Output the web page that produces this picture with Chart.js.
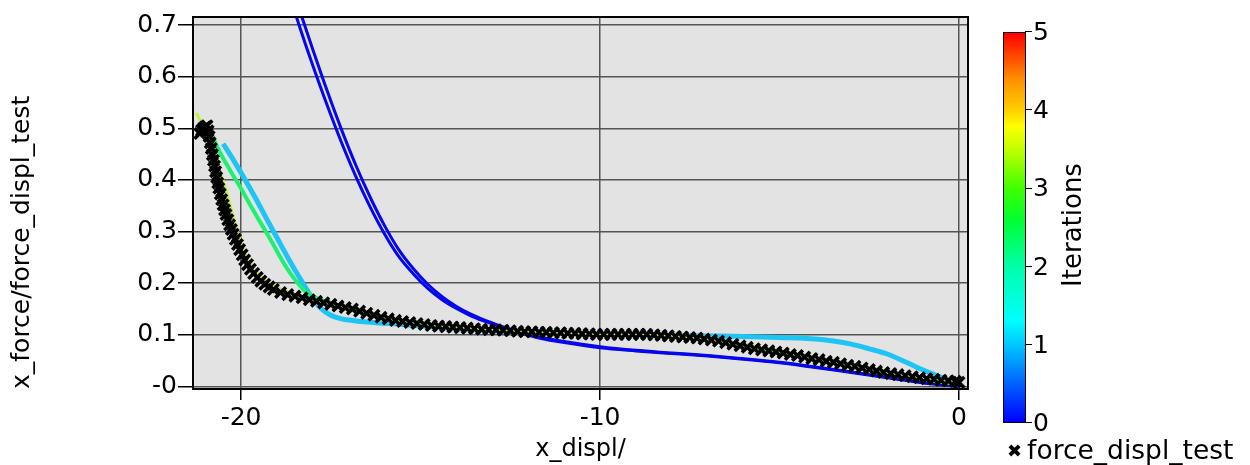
<!DOCTYPE html>
<html>
<head>
<meta charset="utf-8">
<script src="https://cdn.jsdelivr.net/npm/chart.js@4.4.1/dist/chart.umd.min.js"></script>
<style>
  body { margin: 0; background: #fff; font-family: "DejaVu Sans", sans-serif; color: #000; }
  #wrap { position: relative; width: 1250px; height: 465px; overflow: hidden; }
  #chart { position: absolute; left: 0; top: 0; }
  #cbar { position: absolute; left: 1003px; top: 32px; width: 23px; height: 391px; border: 1.5px solid #000; box-sizing: border-box; }
  .ctick { position: absolute; left: 1025px; width: 7px; height: 0; border-top: 1.5px solid #000; }
  .clabel { position: absolute; left: 1033px; font-size: 25px; line-height: 25px; transform: translateY(-52%); }
  #ctitle { position: absolute; left: 1072px; top: 225px; font-size: 26px; white-space: nowrap; transform: translate(-50%, -50%) rotate(-90deg); }
  #legend { position: absolute; left: 1007px; top: 435px; font-size: 26.5px; line-height: 30px; white-space: nowrap; }
  #legend .mark { font-size: 18px; position: relative; top: -2px; margin-right: 5px; }
</style>
</head>
<body>
<div id="wrap">
  <canvas id="chart" width="1250" height="465"></canvas>
  <div id="cbar"></div>
  <div id="ctitle">Iterations</div>
  <div id="legend"><span class="mark">&#10006;</span>force_displ_test</div>
</div>
<script>
// measured test curve (black crosses)
const testDispl = [-21.15, -21.10, -21.05, -21.00, -20.95, -20.92, -20.89, -20.86, -20.83, -20.80, -20.77, -20.74,
  -20.71, -20.68, -20.65, -20.62, -20.58, -20.54, -20.50, -20.46, -20.42, -20.37, -20.32, -20.27, -20.22,
  -20.16, -20.10, -20.04, -19.97, -19.90, -19.82, -19.74, -19.65, -19.55, -19.45, -19.34, -19.22, -19.10,
  -18.9, -18.7, -18.5, -18.3, -18.1, -17.9, -17.7, -17.5, -17.3, -17.1, -16.9, -16.7, -16.5, -16.3, -16.1,
  -15.9, -15.7, -15.5, -15.3, -15.1, -14.9, -14.7, -14.5, -14.3, -14.1, -13.9, -13.7, -13.5, -13.3, -13.1,
  -12.9, -12.7, -12.5, -12.3, -12.1, -11.9, -11.7, -11.5, -11.3, -11.1, -10.9, -10.7, -10.5, -10.3, -10.1,
  -9.9, -9.7, -9.5, -9.3, -9.1, -8.9, -8.7, -8.5, -8.3, -8.1, -7.9, -7.7, -7.5, -7.3, -7.1, -6.9, -6.7,
  -6.5, -6.3, -6.1, -5.9, -5.7, -5.5, -5.3, -5.1, -4.9, -4.7, -4.5, -4.3, -4.1, -3.9, -3.7, -3.5, -3.3,
  -3.1, -2.9, -2.7, -2.5, -2.3, -2.1, -1.9, -1.7, -1.5, -1.3, -1.1, -0.9, -0.7, -0.5, -0.3, -0.1, 0.0];
const testForce = [0.490, 0.496, 0.500, 0.503, 0.505, 0.495, 0.484, 0.472, 0.461, 0.449, 0.438, 0.427,
  0.416, 0.405, 0.394, 0.384, 0.373, 0.362, 0.352, 0.342, 0.333, 0.323, 0.313, 0.304, 0.295,
  0.285, 0.275, 0.265, 0.255, 0.245, 0.236, 0.227, 0.219, 0.211, 0.204, 0.198, 0.193, 0.188,
  0.182, 0.178, 0.175, 0.172, 0.168, 0.165, 0.162, 0.159, 0.156, 0.153, 0.150, 0.146, 0.142, 0.138, 0.134,
  0.131, 0.128, 0.126, 0.124, 0.122, 0.120, 0.118, 0.117, 0.116, 0.115, 0.114, 0.113, 0.112, 0.111, 0.110,
  0.110, 0.109, 0.108, 0.107, 0.106, 0.106, 0.105, 0.105, 0.104, 0.104, 0.103, 0.103, 0.102, 0.102, 0.101,
  0.101, 0.101, 0.101, 0.101, 0.101, 0.101, 0.101, 0.100, 0.099, 0.098, 0.097, 0.096, 0.095, 0.094, 0.092, 0.090, 0.088,
  0.085, 0.082, 0.079, 0.076, 0.073, 0.071, 0.069, 0.067, 0.065, 0.062, 0.060, 0.057, 0.054, 0.052, 0.049, 0.047, 0.044,
  0.041, 0.039, 0.036, 0.033, 0.030, 0.027, 0.025, 0.023, 0.021, 0.019, 0.017, 0.015, 0.014, 0.012, 0.011, 0.010, 0.008];

// iteration 0 (two runs)
const it0aDispl = [-18.4, -18.0, -17.6, -17.2, -16.8, -16.4, -16.0, -15.6, -15.2, -14.8, -14.4, -14.0, -13.6, -13.2,
  -12.8, -12.3, -11.7, -11.0, -10.0, -9.0, -8.0, -7.0, -6.0, -5.0, -4.0, -3.0, -2.0, -1.0, 0.0];
const it0aForce = [0.735, 0.652, 0.572, 0.497, 0.428, 0.366, 0.311, 0.264, 0.228, 0.198, 0.174, 0.155, 0.140, 0.128,
  0.118, 0.107, 0.096, 0.087, 0.077, 0.070, 0.065, 0.060, 0.054, 0.047, 0.038, 0.028, 0.018, 0.008, 0.001];
const it0bDispl = [-18.5, -18.4, -18.0, -17.6, -17.2, -16.8, -16.4, -16.0, -15.6, -15.2, -14.8, -14.4, -14.0, -13.6,
  -13.2, -12.8, -12.3, -11.7, -11.0, -10.0, -9.0, -8.0, -7.0, -6.0, -5.0, -4.0, -3.0, -2.0, -1.0, 0.0];
const it0bForce = [0.725, 0.703, 0.621, 0.544, 0.472, 0.406, 0.347, 0.295, 0.251, 0.218, 0.190, 0.168, 0.151, 0.137,
  0.126, 0.116, 0.105, 0.094, 0.085, 0.075, 0.069, 0.064, 0.059, 0.053, 0.046, 0.037, 0.027, 0.017, 0.007, 0.000];

// iteration 1
const it1Displ = [-20.5, -20.2, -19.9, -19.6, -19.3, -19.0, -18.7, -18.4, -18.1, -17.8, -17.5, -17.2, -16.8, -16.5,
  -15.5, -14.0, -12.0, -10.0, -8.0, -7.0, -6.0, -5.0, -4.0, -3.5, -3.0, -2.5, -2.0, -1.5, -1.0, -0.5, 0.0];
const it1Force = [0.470, 0.437, 0.402, 0.365, 0.326, 0.288, 0.250, 0.214, 0.180, 0.153, 0.138, 0.131, 0.127, 0.125,
  0.120, 0.112, 0.105, 0.101, 0.099, 0.098, 0.097, 0.095, 0.092, 0.088, 0.082, 0.073, 0.063, 0.048, 0.032, 0.018, 0.006];

// iteration 2
const it2Displ = [-20.9, -20.6, -20.3, -20.0, -19.75, -19.5, -19.25, -19.0, -18.75, -18.5, -18.25, -18.0, -17.5,
  -17.0, -16.0, -14.0, -12.0, -10.0, -8.0, -7.0, -6.0, -5.0, -4.0, -3.0, -2.0, -1.0, 0.0];
const it2Force = [0.500, 0.455, 0.418, 0.383, 0.352, 0.322, 0.293, 0.262, 0.232, 0.207, 0.187, 0.175, 0.162,
  0.152, 0.134, 0.115, 0.106, 0.101, 0.098, 0.092, 0.080, 0.067, 0.055, 0.042, 0.028, 0.014, 0.004];

// iteration 3
const it3Displ = [-21.25, -21.0, -20.7, -20.4, -20.1, -19.8, -19.4, -19.0, -18.0, -16.0, -14.0, -12.0, -10.0,
  -8.0, -6.0, -4.0, -2.0, 0.0];
const it3Force = [0.530, 0.495, 0.440, 0.375, 0.300, 0.245, 0.210, 0.192, 0.168, 0.134, 0.116, 0.106, 0.101,
  0.098, 0.082, 0.056, 0.028, 0.004];

const xTicks = [-20, -10, 0];
const xTickLabels = ['-20', '-10', '0'];
const yTicks = [0, 0.1, 0.2, 0.3, 0.4, 0.5, 0.6, 0.7];
const yTickLabels = ['-0', '0.1', '0.2', '0.3', '0.4', '0.5', '0.6', '0.7'];

const cbarTicks = [0, 1, 2, 3, 4, 5];
const cbarStops = [[0, '#0000ff'], [0.2, '#00c8ff'], [0.26, '#00ffff'], [0.4, '#00ffaa'], [0.52, '#00ff30'],
  [0.6, '#40ff00'], [0.7, '#c0ff00'], [0.76, '#ffff00'], [0.8, '#ffd000'], [0.88, '#ff9000'], [1, '#ff0000']];

function pts(xs, ys) {
  return xs.map(function(x, i) { return { x: x, y: ys[i] }; });
}

function line(label, xs, ys, color, width, order) {
  return {
    label: label,
    data: pts(xs, ys),
    showLine: true,
    borderColor: color,
    backgroundColor: color,
    borderWidth: width,
    pointRadius: 0,
    cubicInterpolationMode: 'monotone',
    clip: 0,
    order: order
  };
}

// colorbar (html)
var cbar = document.getElementById('cbar');
cbar.style.background = 'linear-gradient(to top, ' + cbarStops.map(function(s) {
  return s[1] + ' ' + (s[0] * 100) + '%';
}).join(', ') + ')';
var wrap = document.getElementById('wrap');
cbarTicks.forEach(function(v) {
  var y = 32 + (1 - v / 5) * 391;
  var t = document.createElement('div');
  t.className = 'ctick';
  t.style.top = (y - 0.75) + 'px';
  wrap.appendChild(t);
  var l = document.createElement('div');
  l.className = 'clabel';
  l.style.top = y + 'px';
  l.textContent = String(v);
  wrap.appendChild(l);
});

const plotFrame = {
  id: 'plotFrame',
  beforeDraw(chart) {
    var a = chart.chartArea, ctx = chart.ctx;
    ctx.save();
    ctx.fillStyle = '#e3e3e3';
    ctx.fillRect(a.left, a.top, a.right - a.left, a.bottom - a.top);
    ctx.restore();
  },
  afterDraw(chart) {
    var a = chart.chartArea, ctx = chart.ctx;
    ctx.save();
    ctx.strokeStyle = '#000';
    ctx.lineWidth = 2;
    ctx.strokeRect(a.left, a.top, a.right - a.left, a.bottom - a.top);
    ctx.restore();
  }
};

Chart.defaults.font.family = '"DejaVu Sans", sans-serif';
Chart.defaults.color = '#000';

new Chart(document.getElementById('chart'), {
  type: 'scatter',
  data: {
    datasets: [
      {
        label: 'force_displ_test',
        data: pts(testDispl, testForce),
        showLine: false,
        pointStyle: 'crossRot',
        pointRadius: 7.5,
        pointBorderWidth: 3.5,
        borderColor: '#000',
        backgroundColor: '#000',
        order: 0
      },
      line('iter 3', it3Displ, it3Force, '#c4f040', 3, 1),
      line('iter 2', it2Displ, it2Force, '#1ef070', 4, 2),
      line('iter 1', it1Displ, it1Force, '#1ec4f4', 5, 3),
      line('iter 0a', it0aDispl, it0aForce, '#0606ee', 3, 4),
      line('iter 0b', it0bDispl, it0bForce, '#0606ee', 3, 5)
    ]
  },
  options: {
    responsive: false,
    animation: false,
    devicePixelRatio: 1,
    layout: { padding: { top: 17, right: 282, bottom: 0, left: 0 } },
    plugins: {
      legend: { display: false },
      tooltip: { enabled: false }
    },
    scales: {
      x: {
        type: 'linear',
        min: -21.34,
        max: 0.25,
        afterBuildTicks: function(s) { s.ticks = xTicks.map(function(v) { return { value: v }; }); },
        afterFit: function(s) { s.height = 76; },
        ticks: {
          callback: function(v, i) { return xTickLabels[i]; },
          font: { size: 25 },
          padding: 3,
          maxRotation: 0,
          autoSkip: false
        },
        grid: { color: '#555', lineWidth: 1.5, tickLength: 11, tickColor: '#000', tickWidth: 1.5 },
        border: { display: false },
        title: { display: true, text: 'x_displ/', font: { size: 24 }, padding: { top: 0, bottom: 1 } }
      },
      y: {
        type: 'linear',
        min: -0.0048,
        max: 0.7155,
        afterBuildTicks: function(s) { s.ticks = yTicks.map(function(v) { return { value: v }; }); },
        afterFit: function(s) { s.width = 193; },
        ticks: {
          callback: function(v, i) { return yTickLabels[i]; },
          font: { size: 25 },
          padding: 1,
          autoSkip: false
        },
        grid: { color: '#555', lineWidth: 1.5, tickLength: 15, tickColor: '#000', tickWidth: 1.5 },
        border: { display: false },
        title: { display: true, text: 'x_force/force_displ_test', align: 'start', font: { size: 25 }, padding: { top: 7, bottom: 0 } }
      }
    }
  },
  plugins: [plotFrame]
});
</script>
</body>
</html>
